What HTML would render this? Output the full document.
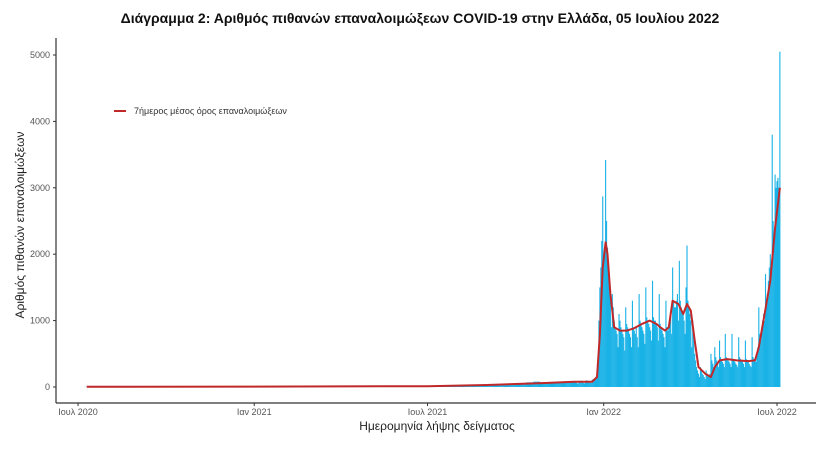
<!DOCTYPE html>
<html><head><meta charset="utf-8">
<style>
body{margin:0;background:#fff;width:840px;height:459px;overflow:hidden}
svg text{font-family:"Liberation Sans",sans-serif}
</style></head>
<body>
<svg id="chart" width="840" height="459" viewBox="0 0 840 459" xmlns="http://www.w3.org/2000/svg">
<text x="420" y="23" text-anchor="middle" font-size="14" font-weight="bold" fill="#111">Διάγραμμα 2: Αριθμός πιθανών επαναλοιμώξεων COVID-19 στην Ελλάδα, 05 Ιουλίου 2022</text>
<g id="bars"></g>
<g id="line"></g>
<g id="axes"></g>
<text transform="translate(24,225) rotate(-90)" text-anchor="middle" font-size="12" fill="#222">Αριθμός πιθανών επαναλοιμώξεων</text>
<text x="437" y="430" text-anchor="middle" font-size="12" fill="#222">Ημερομηνία λήψης δείγματος</text>
<g>
<line x1="114" y1="111" x2="126" y2="111" stroke="#c0282a" stroke-width="2"/>
<text x="134" y="114" font-size="9" fill="#333">7ήμερος μέσος όρος επαναλοιμώξεων</text>
</g>
</svg>
<script>
// weekly levels 2020-07-08 .. 2021-12-01 (73 weeks)
const earlyWeekly=[2,3,3,4,5,5,6,8,8,10,10,12,12,10,10,8,8,6,6,5,5,5,5,5,5,5,
5,6,6,8,8,10,10,12,12,15,15,15,12,12,10,10,10,8,8,8,8,10,10,10,12,12,
15,20,25,30,30,35,30,30,30,35,40,45,50,60,70,80,70,70,75,80,85];
// daily values from 2021-12-01
const dailyDec=[70,80,90,60,50,85,90,95,80,70,60,55,90,100,95,85,75,65,60,110,120,100,110,120,200,400,1000,1500,1800,2200,2870];
const dailyJan=[1900,2000,3420,2500,2100,1700,1500,1300,900,1400,1200,1000,900,850,800,600,1100,1000,900,850,800,750,550,1200,950,900,850,800,750,600,1300];
const dailyFeb=[900,850,800,900,750,600,1400,1000,950,900,850,800,650,1500,1050,1000,950,900,850,700,1600,1050,1000,1000,950,900,700,1400];
const dailyMar=[950,900,850,800,750,600,1300,900,850,900,1000,1100,800,1800,1300,1200,1200,1300,1400,1000,1900,1300,1200,1150,1100,1000,800,1500,2130,1300,1200];
const dailyApr=[1100,1000,600,1000,800,500,400,300,250,200,150,300,250,200,180,150,120,250,200,180,150,200,500,400,350,300,600,450,400,350];
const dailyMay=[300,700,450,400,380,350,300,800,450,420,400,380,350,300,800,420,400,380,350,330,300,750,450,420,400,380,350,300,700,420,400];
const dailyJun=[380,350,320,300,750,450,420,400,380,500,600,1200,800,700,900,1000,1100,1000,1700,1300,1400,1600,1800,2000,1900,3800,2500,2200,3200,3000];
const dailyJul=[3100,3150,3000,5050];
const maDates=["2020-07-10","2021-01-01","2021-07-01","2021-09-01","2021-11-01","2021-12-01","2021-12-20","2021-12-25","2021-12-28","2021-12-31","2022-01-03","2022-01-05","2022-01-08","2022-01-12","2022-01-18","2022-01-25","2022-02-01","2022-02-10","2022-02-18","2022-02-25","2022-03-01","2022-03-06","2022-03-10","2022-03-14","2022-03-20","2022-03-25","2022-03-29","2022-04-02","2022-04-06","2022-04-10","2022-04-17","2022-04-23","2022-04-27","2022-05-02","2022-05-10","2022-05-20","2022-06-01","2022-06-08","2022-06-12","2022-06-18","2022-06-24","2022-06-29","2022-07-04"];
const maValues=[3,6,12,30,60,80,80,150,800,1800,2180,2000,1400,900,850,850,880,950,1000,950,900,850,900,1300,1250,1100,1250,1150,700,300,200,150,300,400,420,400,390,400,600,1100,1600,2400,3000];
const yTicks=[0,1000,2000,3000,4000,5000];
const xTickDates=["2020-07-01","2021-01-01","2021-07-01","2022-01-01","2022-07-01"];
const xTickLabels=["Ιουλ 2020","Ιαν 2021","Ιουλ 2021","Ιαν 2022","Ιουλ 2022"];

const NS="http://www.w3.org/2000/svg";
const REF=Date.UTC(2022,0,1);
function dayOf(s){const p=s.split("-");return (Date.UTC(+p[0],p[1]-1,+p[2])-REF)/86400000;}
function xs(d){return 603.7+d*0.9575;}
function ys(v){return 387-v*0.0664;}
function mk(t,a,parent){const e=document.createElementNS(NS,t);for(const k in a)e.setAttribute(k,a[k]);parent.appendChild(e);return e;}

const bars=document.getElementById("bars");
let d0=dayOf("2020-07-08");
earlyWeekly.forEach(function(v){
  for(let i=0;i<7;i++){
    const d=d0++;
    const r=mk("rect",{x:xs(d)-0.55,y:ys(v),width:1.1,height:Math.max(0,387-ys(v)),fill:"#19b2e6"},bars);
    
    
  }
});
let dd=dayOf("2021-12-01");
[dailyDec,dailyJan,dailyFeb,dailyMar,dailyApr,dailyMay,dailyJun,dailyJul].forEach(function(arr){
  arr.forEach(function(v){
    const r=mk("rect",{x:xs(dd)-0.55,y:ys(v),width:1.1,height:387-ys(v),fill:"#19b2e6"},bars);
    
    
    dd++;
  });
});

const line=document.getElementById("line");
const pts=maDates.map(function(s,i){return xs(dayOf(s)).toFixed(1)+","+ys(maValues[i]).toFixed(1);}).join(" ");
const pl=mk("polyline",{points:pts,fill:"none",stroke:"#c0282a","stroke-width":2,"stroke-linejoin":"round"},line);



const axes=document.getElementById("axes");
mk("line",{x1:56,y1:38,x2:56,y2:403,stroke:"#333","stroke-width":1.2},axes);
mk("line",{x1:56,y1:403,x2:816,y2:403,stroke:"#333","stroke-width":1.2},axes);
yTicks.forEach(function(v){
  const y=ys(v);
  mk("line",{x1:53,y1:y,x2:56,y2:y,stroke:"#333"},axes);
  const t=mk("text",{x:50,y:y+3,"text-anchor":"end","font-size":"9",fill:"#555"},axes);
  t.textContent=v;
  
  
});
xTickDates.forEach(function(s,i){
  const x=xs(dayOf(s));
  mk("line",{x1:x,y1:403,x2:x,y2:406,stroke:"#333"},axes);
  const t=mk("text",{x:x,y:415,"text-anchor":"middle","font-size":"9",fill:"#555"},axes);
  t.textContent=xTickLabels[i];
  
  
});
</script>
</body></html>
